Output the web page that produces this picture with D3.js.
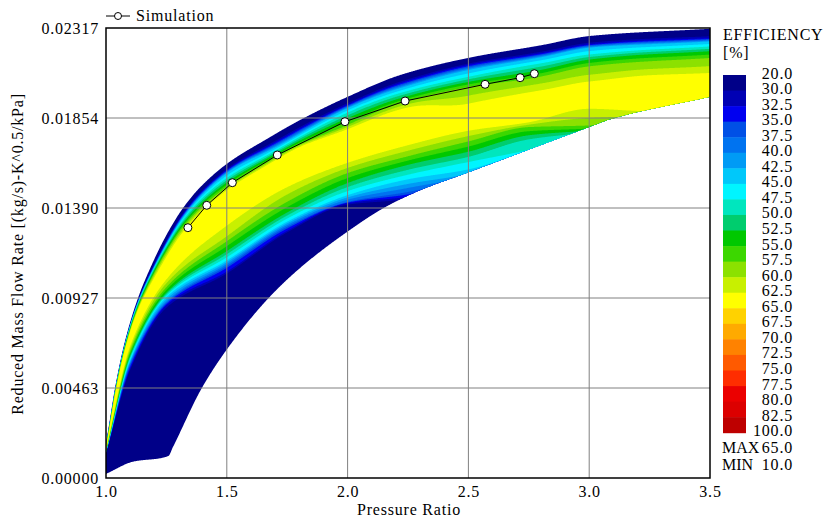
<!DOCTYPE html>
<html><head><meta charset="utf-8">
<script src="https://cdn.jsdelivr.net/npm/d3@7"></script>
<style>
html,body{margin:0;padding:0;background:#fff;}
svg text{font-family:"Liberation Serif","Times New Roman",serif;font-size:16px;letter-spacing:0.8px;fill:#000;}
</style></head><body><svg id="c" width="833" height="522"></svg>
<script>
// ---------- data ----------
const xTicks = [1.0, 1.5, 2.0, 2.5, 3.0, 3.5];
const yTicks = [0, 0.004634, 0.009268, 0.013902, 0.018536, 0.02317];

const legendValues = [20, 30, 32.5, 35, 37.5, 40, 42.5, 45, 47.5, 50, 52.5, 55, 57.5, 60, 62.5, 65, 67.5, 70, 72.5, 75, 77.5, 80, 82.5, 100];
const legendColors = ["rgb(0,0,136)","rgb(0,0,180)","rgb(0,0,240)","rgb(0,80,230)","rgb(0,115,240)","rgb(0,155,245)","rgb(0,200,250)","rgb(0,245,255)","rgb(0,230,190)","rgb(0,205,110)","rgb(0,200,0)","rgb(60,215,0)","rgb(140,225,0)","rgb(200,240,0)","rgb(255,255,0)","rgb(255,210,0)","rgb(255,170,0)","rgb(255,130,0)","rgb(255,90,0)","rgb(255,45,0)","rgb(235,0,0)","rgb(220,0,0)","rgb(190,0,0)"];
const effMax = 65.0, effMin = 10.0;

// upper (surge) boundary of the map
const surgePR   = [1.0, 1.0166, 1.0373, 1.0786, 1.1325, 1.1821, 1.25, 1.3187, 1.3891, 1.505, 1.6664, 1.803, 1.9988, 2.2181, 2.4996, 2.8088, 3.0033, 3.5];
const surgeFlow = [0.0018, 0.00304, 0.00463, 0.00705, 0.00927, 0.01078, 0.01251, 0.01390, 0.01496, 0.01622, 0.01746, 0.01843, 0.01962, 0.02075, 0.02163, 0.02230, 0.02276, 0.02313];
// lower (choke) boundary of the map
const chokePR   = [1.0, 1.1118, 1.2579, 1.2773, 1.3961, 1.5037, 1.6718, 1.803, 1.9988, 2.1478, 2.286, 2.5066, 2.8377, 3.0033, 3.0861, 3.5];
const chokeFlow = [0.00021, 0.00084, 0.00113, 0.00160, 0.00462, 0.00668, 0.00925, 0.01081, 0.01268, 0.01389, 0.01474, 0.01577, 0.01732, 0.01809, 0.01847, 0.01963];

// efficiency profiles across the map (fraction from upper to lower boundary, efficiency %)
const profilePR = [1.0, 1.1, 1.25, 1.5, 1.75, 2.0, 2.25, 2.5, 2.75, 3.0, 3.25, 3.5];
const profiles = [
  [[0,20],[0.04,32.5],[0.08,47.5],[0.13,57.5],[0.17,62.5],[0.2,63],[0.24,57.5],[0.28,47.5],[0.32,32.5],[0.34,29],[1,20]],
  [[0,20],[0.015,32.5],[0.03,47.5],[0.055,57.5],[0.066,62.5],[0.12,64],[0.17,62.5],[0.19,60],[0.225,55],[0.27,45],[0.3,37.5],[0.33,32.5],[0.345,29],[1,20]],
  [[0,20],[0.029,32.5],[0.047,47.5],[0.075,57.5],[0.098,62.5],[0.15,64],[0.2,62.5],[0.235,57.5],[0.26,52.5],[0.28,45],[0.3,40],[0.317,32.5],[0.332,29],[1,20]],
  [[0,20],[0.033,32.5],[0.05,42.5],[0.076,47.5],[0.124,57.5],[0.142,62.5],[0.24,64],[0.333,62.5],[0.39,60],[0.47,52.5],[0.52,45],[0.56,35],[0.58,32.5],[0.595,29],[1,20]],
  [[0,20],[0.057,32.5],[0.09,42.5],[0.11,47.5],[0.155,57.5],[0.172,62.5],[0.28,64],[0.394,62.5],[0.49,57.5],[0.56,52.5],[0.62,45],[0.665,35],[0.68,32.5],[0.695,29],[1,20]],
  [[0,20],[0.059,32.5],[0.084,42.5],[0.117,47.5],[0.158,52.5],[0.208,57.5],[0.24,62.5],[0.37,64],[0.49,62.5],[0.566,57.5],[0.64,52.5],[0.73,45],[0.78,37.5],[0.79,32.5],[0.805,29],[1,20]],
  [[0,20],[0.067,32.5],[0.107,42.5],[0.148,47.5],[0.19,52.5],[0.23,57.5],[0.283,62.5],[0.44,64],[0.59,62.5],[0.68,57.5],[0.75,52.5],[0.83,47.5],[0.905,42.5],[0.97,37.5],[1.03,30],[1.2,20]],
  [[0,20],[0.062,32.5],[0.106,42.5],[0.165,47.5],[0.21,52.5],[0.254,57.5],[0.33,60],[0.4,62.5],[0.52,64],[0.637,62.5],[0.73,57.5],[0.82,52.5],[0.91,47.5],[1,44],[1.1,32.5],[1.2,20]],
  [[0,20],[0.078,32.5],[0.118,42.5],[0.176,47.5],[0.242,52.5],[0.307,57.5],[0.373,60],[0.44,62.5],[0.58,64],[0.733,62.5],[0.78,57.5],[0.86,52.5],[0.9,50],[1,48],[1.1,32.5],[1.2,20]],
  [[0,20],[0.092,32.5],[0.128,42.5],[0.203,47.5],[0.259,52.5],[0.333,57.5],[0.426,60],[0.5,62.5],[0.66,64],[0.8,62.5],[0.9,60],[1,57],[1.15,40],[1.3,20]],
  [[0,20],[0.11,32.5],[0.16,42.5],[0.23,47.5],[0.29,52.5],[0.38,57.5],[0.48,60],[0.56,62.5],[0.8,64],[1,63.5],[1.2,55],[1.4,20]],
  [[0,20],[0.137,32.5],[0.187,42.5],[0.26,47.5],[0.33,52.5],[0.43,57.5],[0.55,60],[0.65,62.5],[0.9,64],[1,64],[1.2,55],[1.4,20]]
];

// simulation points
const simPR   = [1.339, 1.417, 1.523, 1.709, 1.989, 2.238, 2.569, 2.714, 2.773];
const simFlow = [0.012888, 0.014041, 0.015205, 0.016631, 0.018346, 0.019411, 0.020271, 0.020611, 0.020817];

// ---------- helpers ----------
function monotone(xs, ys) {
  const n = xs.length, d = [], m = new Array(n);
  for (let i = 0; i < n - 1; i++) d.push((ys[i+1]-ys[i])/(xs[i+1]-xs[i]));
  m[0] = d[0]; m[n-1] = d[n-2];
  for (let i = 1; i < n - 1; i++) {
    if (d[i-1]*d[i] <= 0) m[i] = 0;
    else {
      const h0 = xs[i]-xs[i-1], h1 = xs[i+1]-xs[i];
      m[i] = 3*(h0+h1)/((2*h1+h0)/d[i-1] + (h1+2*h0)/d[i]);
    }
  }
  return function(x) {
    if (x <= xs[0]) return ys[0];
    if (x >= xs[n-1]) return ys[n-1];
    let i = Math.min(n - 2, d3.bisectRight(xs, x) - 1);
    const h = xs[i+1]-xs[i], t = (x - xs[i])/h;
    const t2 = t*t, t3 = t2*t;
    return (2*t3-3*t2+1)*ys[i] + (t3-2*t2+t)*h*m[i] + (-2*t3+3*t2)*ys[i+1] + (t3-t2)*h*m[i+1];
  };
}
function crossings(P, L) {
  let top = null, bot = null, kmax = 0;
  P.forEach((q, k) => { if (q[1] > P[kmax][1]) kmax = k; });
  for (let i = 0; i < P.length - 1; i++) {
    const [f0, e0] = P[i], [f1, e1] = P[i+1];
    if (top === null && e0 < L && e1 >= L) top = f0 + (L-e0)/(e1-e0)*(f1-f0);
    if (e0 >= L && e1 < L) bot = f0 + (e0-L)/(e0-e1)*(f1-f0);
  }
  if (top === null) { top = bot = P[kmax][0]; }
  if (bot === null) bot = P[P.length-1][0];
  return [top, bot];
}

// ---------- chart ----------
const svg = d3.select("#c");
const X0 = 106, X1 = 710, Y0 = 28, Y1 = 478;
const x = d3.scaleLinear().domain([1.0, 3.5]).range([X0, X1]);
const y = d3.scaleLinear().domain([0, 0.02317]).range([Y1, Y0]);

const topF = monotone(surgePR, surgeFlow);
const botF = monotone(chokePR, chokeFlow);
const ps = d3.range(0, 1001).map(i => 1.0 + i * 0.0025);

svg.append("defs").append("clipPath").attr("id", "mapclip")
  .append("path")
  .attr("d", d3.area().x(p => x(p)).y0(p => y(botF(p))).y1(p => y(topF(p)))(ps));

const gMap = svg.append("g").attr("clip-path", "url(#mapclip)");
gMap.append("rect").attr("x", X0).attr("y", Y0).attr("width", X1-X0).attr("height", Y1-Y0)
  .attr("fill", legendColors[0]);

const colTop = profilePR.map(p => topF(p));
const colSpan = profilePR.map(p => topF(p) - botF(p));
const levels = legendValues.slice(1).filter(v => v < effMax);
levels.forEach((L, li) => {
  const cr = profiles.map(P => crossings(P, L));
  // upper crossing: depth below the surge line; lower crossing: absolute flow
  const dT = monotone(profilePR, cr.map((c, k) => c[0] * colSpan[k]));
  const fB = monotone(profilePR, cr.map((c, k) => colTop[k] - c[1] * colSpan[k]));
  const pts = ps.map(p => {
    let t = topF(p) - dT(p), b = fB(p);
    if (b > t) { const mid = (t + b)/2; t = b = mid; }
    return {p, t, b};
  });
  gMap.append("path")
    .attr("d", d3.area().x(d => x(d.p)).y0(d => y(d.b)).y1(d => y(d.t))(pts))
    .attr("fill", legendColors[li + 1]);
});

// grid
const grid = svg.append("g").attr("stroke", "#808080").attr("stroke-width", 1);
xTicks.slice(1, -1).forEach(v => grid.append("line").attr("x1", x(v)).attr("x2", x(v)).attr("y1", Y0).attr("y2", Y1));
yTicks.slice(1, -1).forEach(v => grid.append("line").attr("x1", X0).attr("x2", X1).attr("y1", y(v)).attr("y2", y(v)));

// frame
svg.append("rect").attr("x", X0).attr("y", Y0).attr("width", X1-X0).attr("height", Y1-Y0)
  .attr("fill", "none").attr("stroke", "#000").attr("stroke-width", 1.5);

// axes
const ax = svg.append("g").attr("transform", `translate(${X0},0)`)
  .call(d3.axisLeft(y).tickValues(yTicks).tickFormat(d3.format(".5f")).tickSize(0).tickPadding(7));
const bx = svg.append("g").attr("transform", `translate(0,${Y1})`)
  .call(d3.axisBottom(x).tickValues(xTicks).tickFormat(d3.format(".1f")).tickSize(0).tickPadding(8));
ax.select(".domain").remove(); bx.select(".domain").remove();

svg.append("text").attr("x", 409).attr("y", 515).attr("text-anchor", "middle").text("Pressure Ratio");
svg.append("text").attr("transform", "translate(23,254) rotate(-90)").attr("text-anchor", "middle")
  .text("Reduced Mass Flow Rate [(kg/s)-K^0.5/kPa]");

// simulation
svg.append("path")
  .attr("d", d3.line().x((d, i) => x(simPR[i])).y((d, i) => y(simFlow[i]))(simPR))
  .attr("fill", "none").attr("stroke", "#000").attr("stroke-width", 1);
svg.selectAll("circle.sim").data(simPR).enter().append("circle").attr("class", "sim")
  .attr("cx", (d, i) => x(simPR[i])).attr("cy", (d, i) => y(simFlow[i])).attr("r", 4)
  .attr("fill", "#fff").attr("stroke", "#000").attr("stroke-width", 1);

// series legend
svg.append("line").attr("x1", 106).attr("x2", 130).attr("y1", 16).attr("y2", 16).attr("stroke", "#000");
svg.append("circle").attr("cx", 118).attr("cy", 16).attr("r", 3.5).attr("fill", "#fff").attr("stroke", "#000");
svg.append("text").attr("x", 136).attr("y", 21).text("Simulation");

// colour legend
const LB0 = 75, LB1 = 432.7, step = (LB1 - LB0) / legendColors.length;
svg.append("text").attr("x", 723).attr("y", 40).text("EFFICIENCY");
svg.append("text").attr("x", 723).attr("y", 58).text("[%]");
legendColors.forEach((c, i) => {
  svg.append("rect").attr("x", 723).attr("y", LB0 + i*step).attr("width", 23).attr("height", step + 0.5).attr("fill", c);
});
legendValues.forEach((v, i) => {
  svg.append("text").attr("x", 793).attr("y", LB0 + i*step + 3.5).attr("text-anchor", "end").text(d3.format(".1f")(v));
});
svg.append("text").attr("x", 722).attr("y", 453).style("letter-spacing", "0px").text("MAX");
svg.append("text").attr("x", 793).attr("y", 453).attr("text-anchor", "end").text(d3.format(".1f")(effMax));
svg.append("text").attr("x", 722).attr("y", 470).style("letter-spacing", "0px").text("MIN");
svg.append("text").attr("x", 793).attr("y", 470).attr("text-anchor", "end").text(d3.format(".1f")(effMin));
</script></body></html>
